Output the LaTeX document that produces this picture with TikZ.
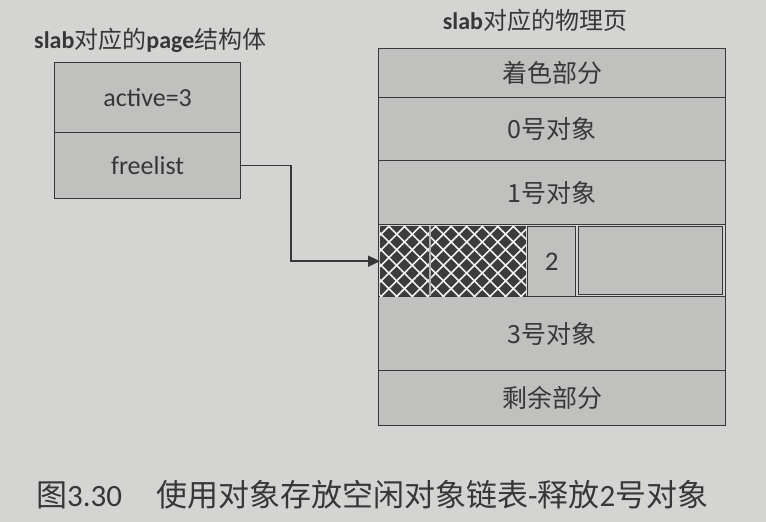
\documentclass[tikz,border=0pt]{standalone}
\usepackage{fontspec}
\setmainfont{Noto Sans CJK SC}
\newfontfamily\latinb{Carlito}[BoldFont=Carlito Bold]
\usetikzlibrary{patterns.meta,arrows.meta,calc}
\definecolor{paper}{RGB}{212,212,210}
\definecolor{boxfill}{RGB}{192,192,190}
\definecolor{ink}{RGB}{55,55,55}
\definecolor{hatchdark}{RGB}{60,60,60}
\begin{document}
\begin{tikzpicture}[x=1pt,y=-1pt,
  cell/.style={draw=ink,line width=1.2pt,fill=boxfill,text=ink,minimum width=#1,inner sep=0pt,font=\fontsize{25}{27}\selectfont},
  cell/.default=186pt,
  titletext/.style={text=ink,font=\fontsize{24}{26}\selectfont,inner sep=0pt},
  link/.style={draw=ink,line width=1.6pt,-{Triangle[length=12pt,width=11pt]}}
]
\fill[paper] (0,0) rectangle (766,522);
\useasboundingbox (0,0) rectangle (766,522);

% titles
\node[titletext,anchor=west] (t1) at (34,40) {{\latinb\bfseries slab}对应的{\latinb\bfseries page}结构体};
\node[titletext] (t2) at (535,20) {{\latinb\bfseries slab}对应的物理页};

% left struct
\node[cell, minimum height=70pt, anchor=north west] (active) at (54,62) {\latinb\fontsize{26}{28}\selectfont active=3};
\node[cell, minimum height=66pt, anchor=north west] (freelist) at (54,132) {\latinb\fontsize{26}{28}\selectfont freelist};

% right page
\node[cell=347pt, minimum height=49pt, anchor=north west] (r0) at (378,48) {着色部分};
\node[cell=347pt, minimum height=63pt, anchor=north west] (r1) at (378,97) {0号对象};
\node[cell=347pt, minimum height=64pt, anchor=north west] (r2) at (378,160) {1号对象};
\node[draw=ink,line width=1.2pt,fill=paper, minimum width=347pt, minimum height=72pt, anchor=north west,inner sep=0pt] (r3) at (378,224) {};
\node[cell=347pt, minimum height=74pt, anchor=north west] (r4) at (378,296) {3号对象};
\node[cell=347pt, minimum height=55pt, anchor=north west] (r5) at (378,370) {剩余部分};

% row of object 2
\node[draw=ink,line width=1pt,fill=boxfill,minimum width=144pt,minimum height=68pt,anchor=north west,inner sep=0pt] (rest) at (578,226) {};
\node[fill=hatchdark,minimum width=146pt,minimum height=70pt,anchor=north west,inner sep=0pt] (hatch) at (380,226) {};
\fill[pattern={Lines[angle=45,distance=11pt,line width=1.6pt]},pattern color=white!90!gray] (hatch.north west) rectangle (hatch.south east);
\fill[pattern={Lines[angle=-45,distance=11pt,line width=1.6pt]},pattern color=white!90!gray] (hatch.north west) rectangle (hatch.south east);
\draw[gray!60,line width=1.5pt] ($(hatch.north west)+(50,0)$) -- ($(hatch.south west)+(50,0)$);
\node[draw=ink,line width=1.2pt,fill=boxfill,text=ink,minimum width=48pt,minimum height=70pt,anchor=north west,inner sep=0pt,font=\fontsize{27}{29}\selectfont] (obj2) at (527,226) {\latinb 2};

% connector
\draw[link] (freelist.east) -- ++(50,0) |- (hatch.west);

% caption
\node[text=ink,anchor=west,inner sep=0pt,font=\fontsize{31}{33}\selectfont] (cap) at (36,495) {图{\latinb 3.30}\hspace{34pt}使用对象存放空闲对象链表{\latinb -}释放{\latinb 2}号对象};
\end{tikzpicture}
\end{document}
